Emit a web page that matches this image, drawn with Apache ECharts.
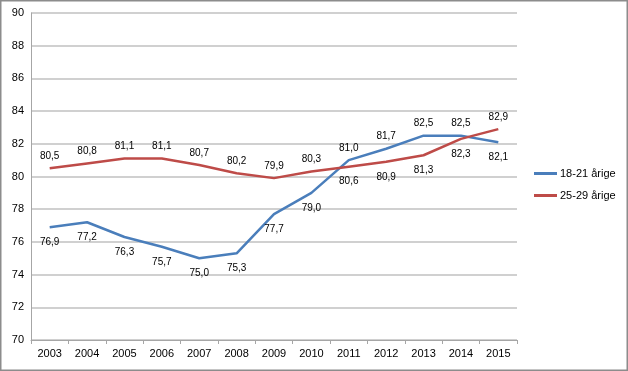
<!DOCTYPE html>
<html><head><meta charset="utf-8">
<script src="https://cdn.jsdelivr.net/npm/echarts@6/dist/echarts.min.js"></script>
<style>html,body{margin:0;padding:0;background:#fff}#c{width:628px;height:371px}</style>
</head><body><div id="c"></div>
<script>
const years = ['2003','2004','2005','2006','2007','2008','2009','2010','2011','2012','2013','2014','2015'];
const young = [76.9, 77.2, 76.3, 75.7, 75.0, 75.3, 77.7, 79.0, 81.0, 81.7, 82.5, 82.5, 82.1];
const older = [80.5, 80.8, 81.1, 81.1, 80.7, 80.2, 79.9, 80.3, 80.6, 80.9, 81.3, 82.3, 82.9];
const names = ['18-21 årige', '25-29 årige'];
const colors = ['#4a7ebb', '#be4b48'];

function fmt(v){ return v.toFixed(1).replace('.', ','); }
function items(vals, other){
  return vals.map((v, i) => ({
    value: v,
    label: { position: v > other[i] ? 'top' : 'bottom', distance: v > other[i] ? 7 : 10 }
  }));
}
const chart = echarts.init(document.getElementById('c'));
const font = 'Liberation Sans, Arial, sans-serif';
const lbl = { show: true, fontFamily: font, fontSize: 10, color: '#000', formatter: p => fmt(p.value) };
chart.setOption({
  animation: false,
  graphic: [{ type: 'rect', shape: { x: 0.75, y: 0.75, width: 626.5, height: 369.5 }, style: { fill: 'none', stroke: '#8c8c8c', lineWidth: 1.5 }, silent: true }],
  grid: { left: 31, right: 111, top: 13, bottom: 31 },
  legend: {
    orient: 'vertical', left: 534, top: 168, itemWidth: 23, itemHeight: 3, itemGap: 11, padding: 0,
    icon: 'rect',
    textStyle: { fontFamily: font, fontSize: 11, color: '#000', padding: [0,0,0,-2] },
    data: names
  },
  xAxis: {
    type: 'category', data: years, boundaryGap: true,
    axisLine: { lineStyle: { color: '#a6a6a6', width: 1 } },
    axisTick: { show: true, length: 4, lineStyle: { color: '#a6a6a6' } },
    axisLabel: { fontFamily: font, fontSize: 11, color: '#000', margin: 8 }
  },
  yAxis: {
    type: 'value', min: 70, max: 90, interval: 2,
    axisLine: { show: true, lineStyle: { color: '#a6a6a6', width: 1 } },
    axisTick: { show: false },
    splitLine: { lineStyle: { color: '#c0c0c0', width: 1.5 } },
    axisLabel: { fontFamily: font, fontSize: 11, color: '#000', margin: 7 }
  },
  series: [
    { name: names[0], type: 'line', data: items(young, older), symbol: 'circle', symbolSize: 0.01, showSymbol: true, color: colors[0],
      lineStyle: { width: 2.5, color: colors[0] }, label: lbl },
    { name: names[1], type: 'line', data: items(older, young), symbol: 'circle', symbolSize: 0.01, showSymbol: true, color: colors[1],
      lineStyle: { width: 2.5, color: colors[1] }, label: lbl }
  ]
});
</script></body></html>
